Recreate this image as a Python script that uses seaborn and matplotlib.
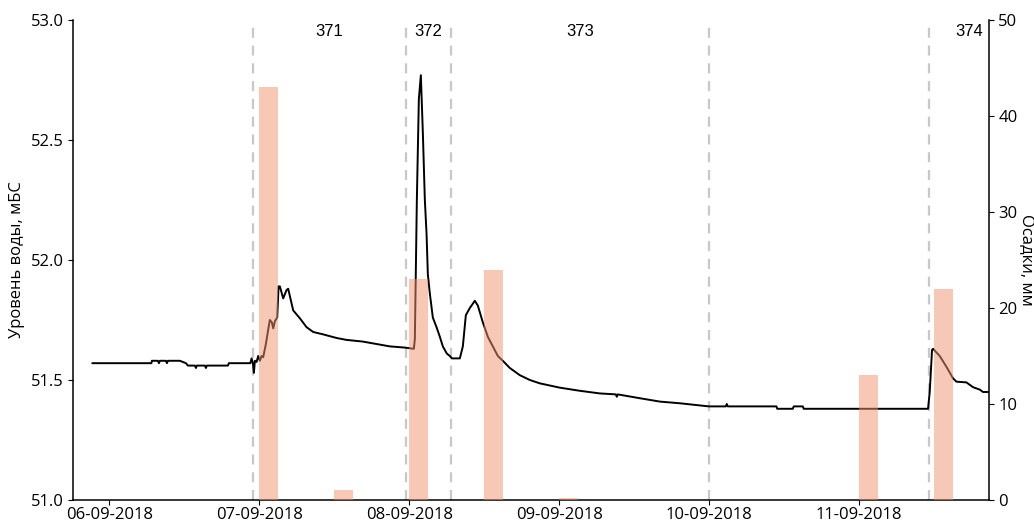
import numpy as np
import pandas as pd
import matplotlib
matplotlib.use("Agg")
import matplotlib.pyplot as plt
import matplotlib.dates as mdates
from matplotlib.ticker import FormatStrFormatter
import seaborn as sns

# ---------------- data ----------------
base_date = "2018-09-06 00:00"

# water level: hours since 06-09-2018 00:00 and level (m BS)
level_hours = [
    -2.72, 6.75, 6.83, 7.79, 7.95, 8.11, 9.07, 9.23, 9.39, 11.31, 12.27, 12.59,
    13.71, 13.87, 14.03, 15.31, 15.47, 15.63, 18.99, 19.15, 22.59, 22.78, 22.99,
    23.15, 23.31, 23.58, 23.84, 24.11, 24.38, 24.64, 25.07, 25.44, 25.71, 26.03,
    26.24, 26.51, 26.88, 27.10, 27.31, 27.84, 28.38, 28.64, 29.44, 30.51, 31.58,
    32.64, 34.24, 36.38, 37.98, 40.59, 44.91, 47.31, 48.75, 48.91, 49.23, 49.55,
    49.87, 50.19, 50.51, 50.78, 50.99, 51.31, 51.79, 52.38, 52.91, 53.39, 54.03,
    54.51, 54.83, 56.11, 56.59, 57.07, 57.71, 58.51, 58.99, 59.79, 60.59, 61.39,
    62.19, 62.99, 64.11, 65.71, 67.31, 68.91, 72.11, 75.31, 78.51, 81.07, 81.23,
    81.39, 84.91, 88.11, 91.31, 95.95, 98.67, 98.83, 98.99, 106.78, 106.90,
    109.39, 109.55, 110.99, 111.15, 131.04, 131.31, 131.68, 131.84, 132.91,
    133.98, 135.04, 135.58, 137.18, 138.24, 139.31, 139.84, 140.70,
]
level_values = [
    51.57, 51.57, 51.58, 51.58, 51.57, 51.58, 51.58, 51.57, 51.58, 51.58, 51.57,
    51.56, 51.56, 51.55, 51.56, 51.56, 51.55, 51.56, 51.56, 51.57, 51.57, 51.59,
    51.57, 51.53, 51.58, 51.575, 51.60, 51.58, 51.60, 51.595, 51.65, 51.71,
    51.75, 51.74, 51.715, 51.745, 51.76, 51.89, 51.89, 51.84, 51.875, 51.88,
    51.79, 51.757, 51.72, 51.70, 51.69, 51.675, 51.667, 51.66, 51.64, 51.635,
    51.63, 51.67, 52.25, 52.67, 52.77, 52.53, 52.25, 52.11, 51.94, 51.86, 51.76,
    51.72, 51.68, 51.64, 51.61, 51.60, 51.59, 51.59, 51.64, 51.77, 51.80, 51.83,
    51.81, 51.74, 51.68, 51.64, 51.60, 51.58, 51.55, 51.52, 51.50, 51.486,
    51.468, 51.455, 51.444, 51.44, 51.43, 51.44, 51.424, 51.41, 51.403, 51.39,
    51.39, 51.40, 51.39, 51.39, 51.38, 51.38, 51.39, 51.39, 51.38, 51.38,
    51.45, 51.625, 51.63, 51.60, 51.555, 51.507, 51.493, 51.49, 51.47, 51.46,
    51.45, 51.45,
]

# precipitation: 12-hourly totals (mm)
precip_times = [
    "2018-09-06 00:00", "2018-09-06 12:00", "2018-09-07 00:00", "2018-09-07 12:00",
    "2018-09-08 00:00", "2018-09-08 12:00", "2018-09-09 00:00", "2018-09-09 12:00",
    "2018-09-10 00:00", "2018-09-10 12:00", "2018-09-11 00:00", "2018-09-11 12:00",
]
precip_values = [0, 0, 43, 1, 23, 24, 0.2, 0, 0, 0, 13, 22]

# flood events
event_labels = ["371", "372", "373", "374"]
event_starts = ["2018-09-06 23:00", "2018-09-07 23:30", "2018-09-08 06:45", "2018-09-11 11:15"]
event_ends = ["2018-09-07 23:30", "2018-09-08 06:45", "2018-09-10 00:00", "2018-09-12 00:00"]

x_limits = ["2018-09-05 18:15", "2018-09-11 20:45"]
level_ticks = [51.0, 51.5, 52.0, 52.5, 53.0]
precip_ticks = [0, 10, 20, 30, 40, 50]

# ---------------- build frames ----------------
t0 = pd.Timestamp(base_date)
df_level = pd.DataFrame({
    "time": t0 + pd.to_timedelta(level_hours, unit="h"),
    "level": level_values,
})
df_precip = pd.DataFrame({"time": pd.to_datetime(precip_times), "precip": precip_values})

# ---------------- style ----------------
sns.set_style("ticks")
plt.rcParams["font.family"] = ["Open Sans", "DejaVu Sans"]
plt.rcParams["axes.edgecolor"] = "black"
plt.rcParams["axes.labelcolor"] = "black"
plt.rcParams["text.color"] = "black"
plt.rcParams["xtick.color"] = "black"
plt.rcParams["ytick.color"] = "black"
plt.rcParams["axes.linewidth"] = 1.1

fig = plt.figure(figsize=(10.34, 5.23), dpi=100)
ax = fig.add_axes([0.0709, 0.044, 0.8853, 0.9178])

sns.lineplot(data=df_level, x="time", y="level", ax=ax, color="black", linewidth=1.4)

starts = pd.to_datetime(event_starts)
ends = pd.to_datetime(event_ends)
boundaries = sorted(set(list(starts) + list(ends[:-1])))
for b in boundaries:
    ax.axvline(b, color="#c8c8c8", linewidth=1.6, linestyle=(0, (4.5, 3.5)), zorder=0)

for s, e, lab in zip(starts, ends, event_labels):
    mid = s + (e - s) / 2
    ax.text(mid, 0.975, lab, transform=ax.get_xaxis_transform(), ha="center",
            va="center", fontsize=12, family=["Liberation Sans", "DejaVu Sans"],
            clip_on=False)

ax.set_xlim(pd.Timestamp(x_limits[0]), pd.Timestamp(x_limits[1]))
ax.set_ylim(level_ticks[0], level_ticks[-1])
ax.set_yticks(level_ticks)
ax.yaxis.set_major_formatter(FormatStrFormatter("%.1f"))
ax.xaxis.set_major_locator(mdates.DayLocator())
ax.xaxis.set_major_formatter(mdates.DateFormatter("%d-%m-%Y"))
ax.set_xlabel("")
ax.set_ylabel("Уровень воды, мБС", fontsize=12)
ax.tick_params(labelsize=12)
ax.tick_params(axis="x", pad=1.5)

ax2 = ax.twinx()
ax2.bar(df_precip["time"], df_precip["precip"], width=0.125, align="edge",
        color="#f1936d", alpha=0.5, linewidth=0)
ax2.set_ylim(precip_ticks[0], precip_ticks[-1])
ax2.set_yticks(precip_ticks)
ax2.set_ylabel("Осадки, мм", fontsize=12, rotation=270, va="bottom", labelpad=1)
ax2.tick_params(labelsize=12)

for a in (ax, ax2):
    a.spines["top"].set_visible(False)
ax.spines["right"].set_visible(False)
ax2.spines["left"].set_visible(False)
ax2.spines["bottom"].set_visible(False)

fig.savefig("out.png", dpi=100)
